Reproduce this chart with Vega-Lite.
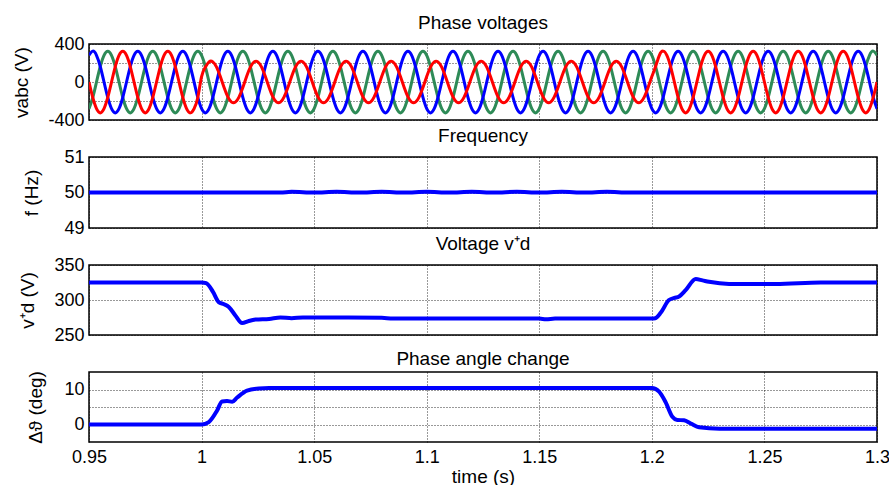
{
"$schema": "https://vega.github.io/schema/vega-lite/v6.json",
"autosize": {"type": "pad"},
"padding": {"left": 12, "top": 13, "right": 0, "bottom": 0},
"background": "white",
"bounds": "flush",
"spacing": 37,
"datasets": {
"va": [
{"t":0.95,"a":0,"b":281,"c":-281},{"t":0.95167,"a":-163,"b":325,"c":-163},{"t":0.95333,"a":-281,"b":281,"c":0},{"t":0.955,"a":-325,"b":163,"c":163},{"t":0.95667,"a":-281,"b":0,"c":281},{"t":0.95833,"a":-163,"b":-163,"c":325},
{"t":0.96,"a":0,"b":-281,"c":281},{"t":0.96167,"a":163,"b":-325,"c":163},{"t":0.96333,"a":281,"b":-281,"c":0},{"t":0.965,"a":325,"b":-163,"c":-163},{"t":0.96667,"a":281,"b":0,"c":-281},{"t":0.96833,"a":163,"b":163,"c":-325},
{"t":0.97,"a":0,"b":281,"c":-281},{"t":0.97167,"a":-163,"b":325,"c":-163},{"t":0.97333,"a":-281,"b":281,"c":0},{"t":0.975,"a":-325,"b":163,"c":163},{"t":0.97667,"a":-281,"b":0,"c":281},{"t":0.97833,"a":-163,"b":-163,"c":325},
{"t":0.98,"a":0,"b":-281,"c":281},{"t":0.98167,"a":163,"b":-325,"c":163},{"t":0.98333,"a":281,"b":-281,"c":0},{"t":0.985,"a":325,"b":-163,"c":-163},{"t":0.98667,"a":281,"b":0,"c":-281},{"t":0.98833,"a":163,"b":163,"c":-325},
{"t":0.99,"a":0,"b":281,"c":-281},{"t":0.99167,"a":-163,"b":325,"c":-163},{"t":0.99333,"a":-281,"b":281,"c":0},{"t":0.995,"a":-325,"b":163,"c":163},{"t":0.99667,"a":-281,"b":0,"c":281},{"t":0.99833,"a":-163,"b":-163,"c":325},
{"t":1.0,"a":57,"b":-281,"c":281},{"t":1.00167,"a":156,"b":-325,"c":163},{"t":1.00333,"a":212,"b":-281,"c":0},{"t":1.005,"a":212,"b":-163,"c":-163},{"t":1.00667,"a":156,"b":0,"c":-281},{"t":1.00833,"a":57,"b":163,"c":-325},
{"t":1.01,"a":-57,"b":281,"c":-281},{"t":1.01167,"a":-156,"b":325,"c":-163},{"t":1.01333,"a":-212,"b":281,"c":0},{"t":1.015,"a":-212,"b":163,"c":163},{"t":1.01667,"a":-156,"b":0,"c":281},{"t":1.01833,"a":-57,"b":-163,"c":325},
{"t":1.02,"a":57,"b":-281,"c":281},{"t":1.02167,"a":156,"b":-325,"c":163},{"t":1.02333,"a":212,"b":-281,"c":0},{"t":1.025,"a":212,"b":-163,"c":-163},{"t":1.02667,"a":156,"b":0,"c":-281},{"t":1.02833,"a":57,"b":163,"c":-325},
{"t":1.03,"a":-57,"b":281,"c":-281},{"t":1.03167,"a":-156,"b":325,"c":-163},{"t":1.03333,"a":-212,"b":281,"c":0},{"t":1.035,"a":-212,"b":163,"c":163},{"t":1.03667,"a":-156,"b":0,"c":281},{"t":1.03833,"a":-57,"b":-163,"c":325},
{"t":1.04,"a":57,"b":-281,"c":281},{"t":1.04167,"a":156,"b":-325,"c":163},{"t":1.04333,"a":212,"b":-281,"c":0},{"t":1.045,"a":212,"b":-163,"c":-163},{"t":1.04667,"a":156,"b":0,"c":-281},{"t":1.04833,"a":57,"b":163,"c":-325},
{"t":1.05,"a":-57,"b":281,"c":-281},{"t":1.05167,"a":-156,"b":325,"c":-163},{"t":1.05333,"a":-212,"b":281,"c":0},{"t":1.055,"a":-212,"b":163,"c":163},{"t":1.05667,"a":-156,"b":0,"c":281},{"t":1.05833,"a":-57,"b":-163,"c":325},
{"t":1.06,"a":57,"b":-281,"c":281},{"t":1.06167,"a":156,"b":-325,"c":163},{"t":1.06333,"a":212,"b":-281,"c":0},{"t":1.065,"a":212,"b":-163,"c":-163},{"t":1.06667,"a":156,"b":0,"c":-281},{"t":1.06833,"a":57,"b":163,"c":-325},
{"t":1.07,"a":-57,"b":281,"c":-281},{"t":1.07167,"a":-156,"b":325,"c":-163},{"t":1.07333,"a":-212,"b":281,"c":0},{"t":1.075,"a":-212,"b":163,"c":163},{"t":1.07667,"a":-156,"b":0,"c":281},{"t":1.07833,"a":-57,"b":-163,"c":325},
{"t":1.08,"a":57,"b":-281,"c":281},{"t":1.08167,"a":156,"b":-325,"c":163},{"t":1.08333,"a":212,"b":-281,"c":0},{"t":1.085,"a":212,"b":-163,"c":-163},{"t":1.08667,"a":156,"b":0,"c":-281},{"t":1.08833,"a":57,"b":163,"c":-325},
{"t":1.09,"a":-57,"b":281,"c":-281},{"t":1.09167,"a":-156,"b":325,"c":-163},{"t":1.09333,"a":-212,"b":281,"c":0},{"t":1.095,"a":-212,"b":163,"c":163},{"t":1.09667,"a":-156,"b":0,"c":281},{"t":1.09833,"a":-57,"b":-163,"c":325},
{"t":1.1,"a":57,"b":-281,"c":281},{"t":1.10167,"a":156,"b":-325,"c":163},{"t":1.10333,"a":212,"b":-281,"c":0},{"t":1.105,"a":212,"b":-163,"c":-163},{"t":1.10667,"a":156,"b":0,"c":-281},{"t":1.10833,"a":57,"b":163,"c":-325},
{"t":1.11,"a":-57,"b":281,"c":-281},{"t":1.11167,"a":-156,"b":325,"c":-163},{"t":1.11333,"a":-212,"b":281,"c":0},{"t":1.115,"a":-212,"b":163,"c":163},{"t":1.11667,"a":-156,"b":0,"c":281},{"t":1.11833,"a":-57,"b":-163,"c":325},
{"t":1.12,"a":57,"b":-281,"c":281},{"t":1.12167,"a":156,"b":-325,"c":163},{"t":1.12333,"a":212,"b":-281,"c":0},{"t":1.125,"a":212,"b":-163,"c":-163},{"t":1.12667,"a":156,"b":0,"c":-281},{"t":1.12833,"a":57,"b":163,"c":-325},
{"t":1.13,"a":-57,"b":281,"c":-281},{"t":1.13167,"a":-156,"b":325,"c":-163},{"t":1.13333,"a":-212,"b":281,"c":0},{"t":1.135,"a":-212,"b":163,"c":163},{"t":1.13667,"a":-156,"b":0,"c":281},{"t":1.13833,"a":-57,"b":-163,"c":325},
{"t":1.14,"a":57,"b":-281,"c":281},{"t":1.14167,"a":156,"b":-325,"c":163},{"t":1.14333,"a":212,"b":-281,"c":0},{"t":1.145,"a":212,"b":-163,"c":-163},{"t":1.14667,"a":156,"b":0,"c":-281},{"t":1.14833,"a":57,"b":163,"c":-325},
{"t":1.15,"a":-57,"b":281,"c":-281},{"t":1.15167,"a":-156,"b":325,"c":-163},{"t":1.15333,"a":-212,"b":281,"c":0},{"t":1.155,"a":-212,"b":163,"c":163},{"t":1.15667,"a":-156,"b":0,"c":281},{"t":1.15833,"a":-57,"b":-163,"c":325},
{"t":1.16,"a":57,"b":-281,"c":281},{"t":1.16167,"a":156,"b":-325,"c":163},{"t":1.16333,"a":212,"b":-281,"c":0},{"t":1.165,"a":212,"b":-163,"c":-163},{"t":1.16667,"a":156,"b":0,"c":-281},{"t":1.16833,"a":57,"b":163,"c":-325},
{"t":1.17,"a":-57,"b":281,"c":-281},{"t":1.17167,"a":-156,"b":325,"c":-163},{"t":1.17333,"a":-212,"b":281,"c":0},{"t":1.175,"a":-212,"b":163,"c":163},{"t":1.17667,"a":-156,"b":0,"c":281},{"t":1.17833,"a":-57,"b":-163,"c":325},
{"t":1.18,"a":57,"b":-281,"c":281},{"t":1.18167,"a":156,"b":-325,"c":163},{"t":1.18333,"a":212,"b":-281,"c":0},{"t":1.185,"a":212,"b":-163,"c":-163},{"t":1.18667,"a":156,"b":0,"c":-281},{"t":1.18833,"a":57,"b":163,"c":-325},
{"t":1.19,"a":-57,"b":281,"c":-281},{"t":1.19167,"a":-156,"b":325,"c":-163},{"t":1.19333,"a":-212,"b":281,"c":0},{"t":1.195,"a":-212,"b":163,"c":163},{"t":1.19667,"a":-156,"b":0,"c":281},{"t":1.19833,"a":-57,"b":-163,"c":325},
{"t":1.2,"a":57,"b":-281,"c":281},{"t":1.20167,"a":163,"b":-325,"c":163},{"t":1.20333,"a":281,"b":-281,"c":0},{"t":1.205,"a":325,"b":-163,"c":-163},{"t":1.20667,"a":281,"b":0,"c":-281},{"t":1.20833,"a":163,"b":163,"c":-325},
{"t":1.21,"a":0,"b":281,"c":-281},{"t":1.21167,"a":-163,"b":325,"c":-163},{"t":1.21333,"a":-281,"b":281,"c":0},{"t":1.215,"a":-325,"b":163,"c":163},{"t":1.21667,"a":-281,"b":0,"c":281},{"t":1.21833,"a":-163,"b":-163,"c":325},
{"t":1.22,"a":0,"b":-281,"c":281},{"t":1.22167,"a":163,"b":-325,"c":163},{"t":1.22333,"a":281,"b":-281,"c":0},{"t":1.225,"a":325,"b":-163,"c":-163},{"t":1.22667,"a":281,"b":0,"c":-281},{"t":1.22833,"a":163,"b":163,"c":-325},
{"t":1.23,"a":0,"b":281,"c":-281},{"t":1.23167,"a":-163,"b":325,"c":-163},{"t":1.23333,"a":-281,"b":281,"c":0},{"t":1.235,"a":-325,"b":163,"c":163},{"t":1.23667,"a":-281,"b":0,"c":281},{"t":1.23833,"a":-163,"b":-163,"c":325},
{"t":1.24,"a":0,"b":-281,"c":281},{"t":1.24167,"a":163,"b":-325,"c":163},{"t":1.24333,"a":281,"b":-281,"c":0},{"t":1.245,"a":325,"b":-163,"c":-163},{"t":1.24667,"a":281,"b":0,"c":-281},{"t":1.24833,"a":163,"b":163,"c":-325},
{"t":1.25,"a":0,"b":281,"c":-281},{"t":1.25167,"a":-163,"b":325,"c":-163},{"t":1.25333,"a":-281,"b":281,"c":0},{"t":1.255,"a":-325,"b":163,"c":163},{"t":1.25667,"a":-281,"b":0,"c":281},{"t":1.25833,"a":-163,"b":-163,"c":325},
{"t":1.26,"a":0,"b":-281,"c":281},{"t":1.26167,"a":163,"b":-325,"c":163},{"t":1.26333,"a":281,"b":-281,"c":0},{"t":1.265,"a":325,"b":-163,"c":-163},{"t":1.26667,"a":281,"b":0,"c":-281},{"t":1.26833,"a":163,"b":163,"c":-325},
{"t":1.27,"a":0,"b":281,"c":-281},{"t":1.27167,"a":-163,"b":325,"c":-163},{"t":1.27333,"a":-281,"b":281,"c":0},{"t":1.275,"a":-325,"b":163,"c":163},{"t":1.27667,"a":-281,"b":0,"c":281},{"t":1.27833,"a":-163,"b":-163,"c":325},
{"t":1.28,"a":0,"b":-281,"c":281},{"t":1.28167,"a":163,"b":-325,"c":163},{"t":1.28333,"a":281,"b":-281,"c":0},{"t":1.285,"a":325,"b":-163,"c":-163},{"t":1.28667,"a":281,"b":0,"c":-281},{"t":1.28833,"a":163,"b":163,"c":-325},
{"t":1.29,"a":0,"b":281,"c":-281},{"t":1.29167,"a":-163,"b":325,"c":-163},{"t":1.29333,"a":-281,"b":281,"c":0},{"t":1.295,"a":-325,"b":163,"c":163},{"t":1.29667,"a":-281,"b":0,"c":281},{"t":1.29833,"a":-163,"b":-163,"c":325},
{"t":1.3,"a":0,"b":-281,"c":281}
],
"freq": [
{"t":0.95,"f":50},{"t":1.0,"f":50},{"t":1.035,"f":50.0},{"t":1.04,"f":50.02},{"t":1.05,"f":50.0},{"t":1.06,"f":50.02},{"t":1.07,"f":50.0},{"t":1.08,"f":50.02},{"t":1.09,"f":50.0},{"t":1.1,"f":50.02},{"t":1.11,"f":50.0},{"t":1.12,"f":50.02},{"t":1.13,"f":50.0},{"t":1.14,"f":50.02},{"t":1.15,"f":50.0},{"t":1.16,"f":50.02},{"t":1.17,"f":50.0},{"t":1.18,"f":50.02},{"t":1.19,"f":50.0},{"t":1.2,"f":50},{"t":1.3,"f":50}
],
"vd": [
{"t":0.95,"v":325},{"t":1.0,"v":325},{"t":1.002,"v":324},{"t":1.005,"v":312},{"t":1.0076,"v":297},{"t":1.01,"v":294},{"t":1.0121,"v":290},{"t":1.015,"v":278},{"t":1.018,"v":267},{"t":1.021,"v":270},{"t":1.024,"v":272},{"t":1.03,"v":273},{"t":1.035,"v":275},{"t":1.04,"v":274},{"t":1.045,"v":275},{"t":1.06,"v":275},{"t":1.08,"v":274.5},{"t":1.085,"v":273.5},{"t":1.15,"v":273.5},{"t":1.153,"v":272.5},{"t":1.157,"v":273.5},{"t":1.2,"v":273.5},{"t":1.2015,"v":274},{"t":1.204,"v":282},{"t":1.2076,"v":300},{"t":1.21,"v":303},{"t":1.2121,"v":305},{"t":1.215,"v":314},{"t":1.2195,"v":330},{"t":1.2225,"v":328},{"t":1.2254,"v":326},{"t":1.2343,"v":323},{"t":1.255,"v":323},{"t":1.275,"v":325},{"t":1.3,"v":325}
],
"ang": [
{"t":0.95,"d":0},{"t":1.0,"d":0},{"t":1.0032,"d":0.7},{"t":1.0069,"d":4},{"t":1.0091,"d":6.6},{"t":1.0113,"d":6.7},{"t":1.0136,"d":6.5},{"t":1.0158,"d":7.7},{"t":1.0202,"d":9.7},{"t":1.0254,"d":10.3},{"t":1.03,"d":10.4},{"t":1.2,"d":10.4},{"t":1.2032,"d":9.4},{"t":1.2061,"d":6.4},{"t":1.2091,"d":2.2},{"t":1.2113,"d":1.3},{"t":1.2143,"d":1.2},{"t":1.2173,"d":0.3},{"t":1.221,"d":-0.8},{"t":1.23,"d":-1.2},{"t":1.3,"d":-1.2}
]
},
"vconcat": [
{
"title": "Phase voltages",
"width": 788, "height": 76,
"data": {"name": "va"},
"encoding": {
"x": {"field": "t", "type": "quantitative", "scale": {"domain": [0.95, 1.3], "nice": false, "zero": false}, "axis": {"values": [0.95,1,1.05,1.1,1.15,1.2,1.25,1.3], "labels": false, "title": null}}
},
"layer": [
{"mark": {"type": "line", "interpolate": "natural", "strokeWidth": 3, "color": "#2e8b57", "clip": true},
 "encoding": {"y": {"field": "c", "type": "quantitative", "scale": {"domain": [-400, 400], "nice": false}, "axis": {"values": [-400,-200,0,200,400], "labelExpr": "datum.value == 200 || datum.value == -200 ? '' : '' + datum.value", "title": "vabc (V)", "titlePadding": 16}}}},
{"mark": {"type": "line", "interpolate": "natural", "strokeWidth": 3, "color": "#0000ff", "clip": true},
 "encoding": {"y": {"field": "b", "type": "quantitative", "scale": {"domain": [-400, 400], "nice": false}, "axis": {"values": [-400,-200,0,200,400], "labelExpr": "datum.value == 200 || datum.value == -200 ? '' : '' + datum.value", "title": "vabc (V)", "titlePadding": 16}}}},
{"mark": {"type": "line", "interpolate": "natural", "strokeWidth": 3, "color": "#ff0000", "clip": true},
 "encoding": {"y": {"field": "a", "type": "quantitative", "scale": {"domain": [-400, 400], "nice": false}, "axis": {"values": [-400,-200,0,200,400], "labelExpr": "datum.value == 200 || datum.value == -200 ? '' : '' + datum.value", "title": "vabc (V)", "titlePadding": 16}}}}
]
},
{
"title": "Frequency",
"width": 788, "height": 71,
"data": {"name": "freq"},
"mark": {"type": "line", "interpolate": "monotone", "strokeWidth": 4, "color": "#0000ff", "clip": true},
"encoding": {
"x": {"field": "t", "type": "quantitative", "scale": {"domain": [0.95, 1.3], "nice": false, "zero": false}, "axis": {"values": [0.95,1,1.05,1.1,1.15,1.2,1.25,1.3], "labels": false, "title": null}},
"y": {"field": "f", "type": "quantitative", "scale": {"domain": [49, 51], "nice": false, "zero": false}, "axis": {"values": [49,50,51], "labelExpr": "'' + datum.value", "title": "f (Hz)", "titlePadding": 22}}
}
},
{
"title": "Voltage v⁺d",
"width": 788, "height": 70,
"data": {"name": "vd"},
"mark": {"type": "line", "interpolate": "monotone", "strokeWidth": 4, "color": "#0000ff", "clip": true},
"encoding": {
"x": {"field": "t", "type": "quantitative", "scale": {"domain": [0.95, 1.3], "nice": false, "zero": false}, "axis": {"values": [0.95,1,1.05,1.1,1.15,1.2,1.25,1.3], "labels": false, "title": null}},
"y": {"field": "v", "type": "quantitative", "scale": {"domain": [250, 350], "nice": false, "zero": false}, "axis": {"values": [250,300,350], "title": "v⁺d (V)", "titlePadding": 16}}
}
},
{
"title": "Phase angle change",
"width": 788, "height": 70,
"data": {"name": "ang"},
"mark": {"type": "line", "interpolate": "monotone", "strokeWidth": 4, "color": "#0000ff", "clip": true},
"encoding": {
"x": {"field": "t", "type": "quantitative", "scale": {"domain": [0.95, 1.3], "nice": false, "zero": false}, "axis": {"values": [0.95,1,1.05,1.1,1.15,1.2,1.25,1.3], "format": "~g", "title": "time (s)", "labelPadding": 6, "titlePadding": 1}},
"y": {"field": "d", "type": "quantitative", "scale": {"domain": [-5, 15], "nice": false, "zero": false}, "axis": {"values": [0,5,10], "labelExpr": "datum.value == 5 ? '' : '' + datum.value", "title": "Δϑ (deg)", "titlePadding": 18}}
}
}
],
"config": {
"font": "Liberation Sans",
"view": {"stroke": "#000", "strokeWidth": 1.5},
"axis": {"labelFont": "Liberation Sans", "labelFontSize": 18, "labelColor": "#000", "titleFont": "Liberation Sans", "titleFontSize": 19, "titleFontWeight": "normal", "titleColor": "#000", "grid": true, "gridColor": "#000", "gridDash": [1, 2], "gridWidth": 1, "gridOpacity": 0.8, "domain": false, "ticks": false, "labelPadding": 5, "labelFlush": false, "labelOverlap": false},
"title": {"font": "Liberation Sans", "fontSize": 19, "fontWeight": "normal", "color": "#000", "offset": 2, "baseline": "alphabetic"}
}
}
